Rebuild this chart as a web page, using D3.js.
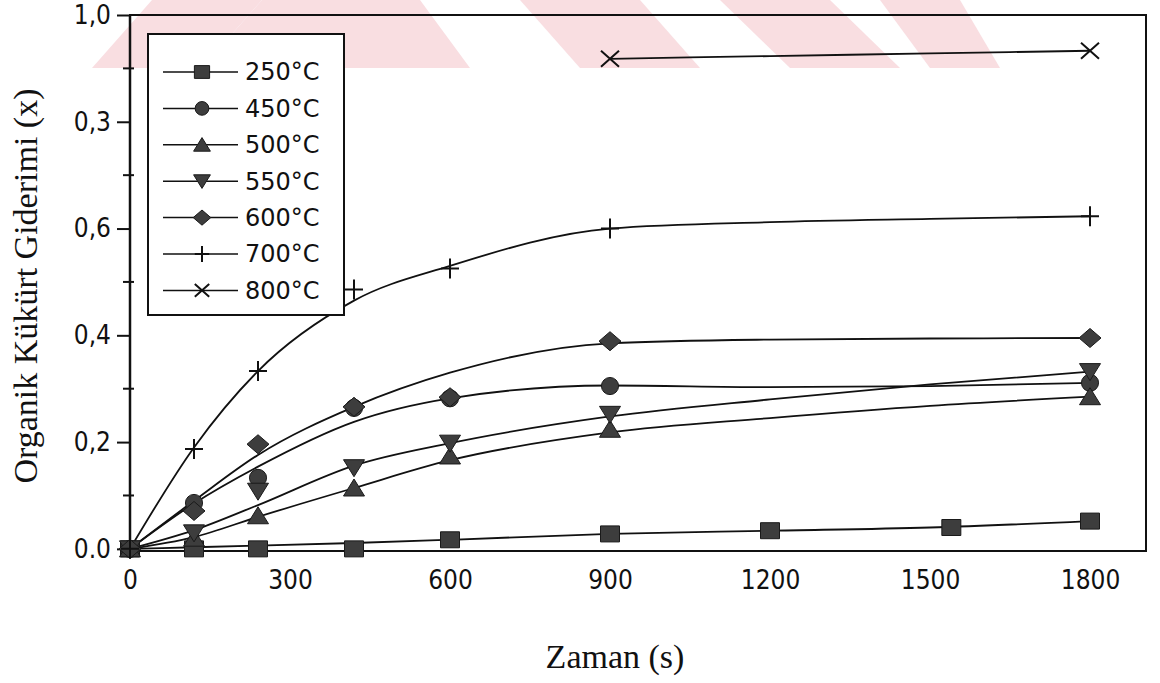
<!DOCTYPE html>
<html>
<head>
<meta charset="utf-8">
<script src="https://cdn.jsdelivr.net/npm/d3@7"></script>
<style>
  body { margin: 0; background: #fff; }
  .tick-lbl { font-family: "DejaVu Sans Condensed", "DejaVu Sans", sans-serif; font-size: 26px; fill: #111; }
  .leg-lbl { font-family: "DejaVu Sans", sans-serif; font-size: 24px; fill: #111; }
  .title { font-family: "Liberation Serif", "Times New Roman", serif; font-size: 34px; fill: #111; }
</style>
</head>
<body>
<div id="chart"></div>
<script>
// time points (s)
const pointTimes = [0, 120, 240, 420, 600, 900, 1800];
const squareTimes = [0, 120, 240, 420, 600, 900, 1200, 1540, 1800];
const fitTimes = [0, 120, 240, 420, 600, 900, 1200, 1500, 1800];

const seriesNames = ["250°C", "450°C", "500°C", "550°C", "600°C", "700°C", "800°C"];
const markerTypes = ["square", "circle", "triangle", "triangleDown", "diamond", "plus", "cross"];

// measured points
const val250 = [0, 0.000, 0.000, 0.000, 0.017, 0.028, 0.034, 0.040, 0.052];
const val450 = [0, 0.086, 0.133, 0.264, 0.282, 0.305, 0.311];
const val500 = [0, 0.020, 0.062, 0.114, 0.174, 0.224, 0.285];
const val550 = [0, 0.030, 0.108, 0.152, 0.198, 0.252, 0.332];
const val600 = [0, 0.071, 0.196, 0.266, 0.284, 0.389, 0.395];
const val700 = [0, 0.187, 0.333, 0.486, 0.525, 0.600, 0.623];
const val800 = [null, null, null, null, null, 0.918, 0.933];

// fitted curves as drawn in the figure
const fit250 = [0, 0.003, 0.006, 0.011, 0.017, 0.028, 0.034, 0.040, 0.052];
const fit450 = [0, 0.085, 0.154, 0.238, 0.282, 0.306, 0.303, 0.305, 0.311];
const fit500 = [0, 0.022, 0.060, 0.114, 0.166, 0.218, 0.245, 0.268, 0.285];
const fit550 = [0, 0.035, 0.082, 0.156, 0.198, 0.248, 0.280, 0.308, 0.332];
const fit600 = [0, 0.090, 0.176, 0.266, 0.330, 0.385, 0.392, 0.394, 0.395];
const fit700 = [0, 0.190, 0.333, 0.465, 0.530, 0.600, 0.612, 0.618, 0.623];
const fit800 = [null, null, null, null, null, 0.918, 0.923, 0.928, 0.933];

const xTicks = [0, 300, 600, 900, 1200, 1500, 1800];
const yTicks = [0, 0.2, 0.4, 0.6, 0.8, 1.0];
const yTickLabels = ["0.0", "0,2", "0,4", "0,6", "0,3", "1,0"];
const yMinorTicks = [0.1, 0.3, 0.5, 0.7, 0.9];

const pointSets = [
  { t: squareTimes, v: val250 }, { t: pointTimes, v: val450 }, { t: pointTimes, v: val500 },
  { t: pointTimes, v: val550 }, { t: pointTimes, v: val600 }, { t: pointTimes, v: val700 },
  { t: pointTimes, v: val800 }
];
const fitSets = [fit250, fit450, fit500, fit550, fit600, fit700, fit800];

const W = 1160, H = 683;
const svg = d3.select("#chart").append("svg")
  .attr("width", W).attr("height", H);

// faint watermark at the top of the scan
const wm = svg.append("g").attr("fill", "#f7d3d8").attr("opacity", 0.75);
[
  [[92, 68], [152, 0], [262, 0], [202, 68]],
  [[262, 0], [420, 0], [470, 68], [202, 68]],
  [[520, 0], [640, 0], [700, 68], [580, 68]],
  [[720, 0], [830, 0], [900, 68], [790, 68]],
  [[880, 0], [960, 0], [1000, 68], [930, 68]]
].forEach(p => wm.append("polygon").attr("points", p.map(d => d.join(",")).join(" ")));

const x = d3.scaleLinear().domain([0, 1905]).range([130, 1146]);
const y = d3.scaleLinear().domain([-0.004, 1]).range([551, 15]);

// frame
svg.append("rect")
  .attr("x", x(0)).attr("y", y(1))
  .attr("width", x(1905) - x(0)).attr("height", y(-0.004) - y(1))
  .attr("fill", "none").attr("stroke", "#111").attr("stroke-width", 2);
svg.append("line")
  .attr("x1", x(0)).attr("x2", x(0)).attr("y1", y(1)).attr("y2", y(-0.004) + 6)
  .attr("stroke", "#111").attr("stroke-width", 2.5);

// y axis
const yAxis = svg.append("g")
  .attr("transform", `translate(${x(0)},0)`)
  .call(d3.axisLeft(y).tickValues(yTicks).tickSize(13).tickPadding(6)
    .tickFormat((d, i) => yTickLabels[i]));
yAxis.select(".domain").remove();
yAxis.selectAll(".tick line").attr("stroke", "#111").attr("stroke-width", 2);
yAxis.selectAll(".tick text").attr("class", "tick-lbl").attr("font-family", null).attr("font-size", null);
svg.append("g").selectAll("line").data(yMinorTicks).join("line")
  .attr("x1", x(0) - 7).attr("x2", x(0) + 4)
  .attr("y1", d => y(d)).attr("y2", d => y(d))
  .attr("stroke", "#111").attr("stroke-width", 2);

// x axis labels (no tick marks in the original)
const xAxis = svg.append("g")
  .attr("transform", `translate(0,${y(-0.004)})`)
  .call(d3.axisBottom(x).tickValues(xTicks).tickSize(0).tickPadding(20).tickFormat(d3.format("d")));
xAxis.select(".domain").remove();
xAxis.selectAll(".tick text").attr("class", "tick-lbl").attr("font-family", null).attr("font-size", null);

// titles
svg.append("text").attr("class", "title")
  .attr("x", 615).attr("y", 668).attr("text-anchor", "middle")
  .text("Zaman (s)");
svg.append("text").attr("class", "title")
  .attr("transform", "translate(37,286) rotate(-90)").attr("text-anchor", "middle")
  .text("Organik Kükürt Giderimi (x)");

// fitted curves
const line = d3.line()
  .defined(d => d[1] !== null)
  .x(d => x(d[0])).y(d => y(d[1]))
  .curve(d3.curveMonotoneX);
const curves = svg.append("g");
fitSets.forEach(f => {
  curves.append("path")
    .datum(fitTimes.map((t, i) => [t, f[i]]))
    .attr("d", line)
    .attr("fill", "none").attr("stroke", "#111").attr("stroke-width", 1.8);
});

// marker shapes
function markerPath(type, s) {
  const p = d3.path();
  switch (type) {
    case "square": p.rect(-9.5 * s, -8 * s, 19 * s, 16 * s); return p.toString();
    case "circle": return d3.symbol(d3.symbolCircle, 230 * s * s)();
    case "triangle":
      p.moveTo(0, -9 * s); p.lineTo(10.5 * s, 8 * s); p.lineTo(-10.5 * s, 8 * s); p.closePath(); return p.toString();
    case "triangleDown":
      p.moveTo(0, 9 * s); p.lineTo(10.5 * s, -8 * s); p.lineTo(-10.5 * s, -8 * s); p.closePath(); return p.toString();
    case "diamond":
      p.moveTo(-11 * s, 0); p.lineTo(0, -9.5 * s); p.lineTo(11 * s, 0); p.lineTo(0, 9.5 * s); p.closePath(); return p.toString();
    case "plus":
      p.moveTo(-9 * s, 0); p.lineTo(9 * s, 0); p.moveTo(0, -10 * s); p.lineTo(0, 10 * s); return p.toString();
    case "cross":
      p.moveTo(-9 * s, -8 * s); p.lineTo(9 * s, 8 * s); p.moveTo(9 * s, -8 * s); p.lineTo(-9 * s, 8 * s); return p.toString();
  }
}
function styleMarker(sel, type) {
  if (type === "plus" || type === "cross") {
    sel.attr("fill", "none").attr("stroke", "#111").attr("stroke-width", 2);
  } else {
    sel.attr("fill", "#3d3d3d").attr("stroke", "#1a1a1a").attr("stroke-width", 1);
  }
}

const marks = svg.append("g");
pointSets.forEach((ps, k) => {
  const pts = ps.t.map((t, i) => [t, ps.v[i]]).filter(d => d[1] !== null);
  marks.append("g").selectAll("path").data(pts).join("path")
    .attr("transform", d => `translate(${x(d[0])},${y(d[1])})`)
    .attr("d", markerPath(markerTypes[k], 1))
    .call(styleMarker, markerTypes[k]);
});

// legend
const leg = svg.append("g");
leg.append("rect")
  .attr("x", 148).attr("y", 34).attr("width", 196).attr("height", 281)
  .attr("fill", "#fff").attr("stroke", "#111").attr("stroke-width", 2);
seriesNames.forEach((name, i) => {
  const gy = 72 + i * 36.4;
  const g = leg.append("g").attr("transform", `translate(0,${gy})`);
  g.append("line").attr("x1", 163).attr("x2", 238).attr("y1", 0).attr("y2", 0)
    .attr("stroke", "#111").attr("stroke-width", 1.5);
  g.append("path").attr("transform", "translate(202,0)")
    .attr("d", markerPath(markerTypes[i], 0.8))
    .call(styleMarker, markerTypes[i]);
  g.append("text").attr("class", "leg-lbl")
    .attr("x", 245).attr("y", 0).attr("dy", "0.35em")
    .text(name);
});
</script>
</body>
</html>
